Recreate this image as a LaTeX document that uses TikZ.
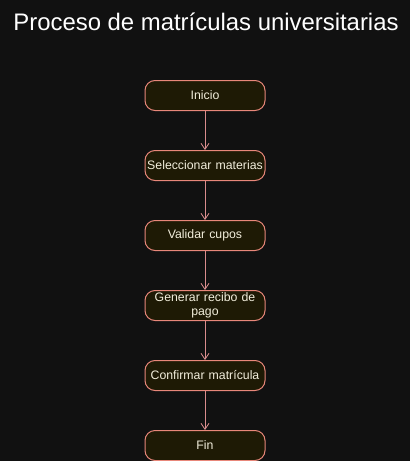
\documentclass[tikz,border=0pt]{standalone}
\usepackage{fontspec}
\setmainfont{Liberation Sans}
\usetikzlibrary{arrows.meta}
\definecolor{bg}{HTML}{111111}
\definecolor{boxfill}{HTML}{1E1A05}
\definecolor{boxline}{HTML}{E8877A}
\definecolor{arrowc}{HTML}{D98C8C}
\definecolor{txt}{HTML}{F2EEDC}
\begin{document}
\begin{tikzpicture}[x=1pt,y=-1pt,
  stepbox/.style={draw=boxline, line width=1pt, fill=boxfill, rounded corners=10pt,
    minimum width=120pt, minimum height=30pt, text width=120pt, align=center,
    font=\fontsize{12.3}{14.5}\selectfont, text=txt, inner sep=0pt},
  flow/.style={draw=arrowc, line width=0.8pt, -{Straight Barb[length=6pt,width=8pt]}}]
\fill[bg] (0,0) rectangle (410,461);
\useasboundingbox (0,0) rectangle (410,461);
\node[font=\fontsize{23.9}{28}\selectfont, text=white] (title) at (206,22) {Proceso de matrículas universitarias};
\node[stepbox] (n1) at (205,95.5) {\raisebox{-1pt}{Inicio}};
\node[stepbox] (n2) at (205,165.5) {\raisebox{-1pt}{Seleccionar materias}};
\node[stepbox] (n3) at (205,235.5) {\raisebox{-1pt}{Validar cupos}};
\node[stepbox] (n4) at (205,305.5) {Generar recibo de\\pago};
\node[stepbox] (n5) at (205,375.5) {\raisebox{-1pt}{Confirmar matrícula}};
\node[stepbox] (n6) at (205,445.5) {\raisebox{-1pt}{Fin}};
\draw[flow] (n1) -- (n2);
\draw[flow] (n2) -- (n3);
\draw[flow] (n3) -- (n4);
\draw[flow] (n4) -- (n5);
\draw[flow] (n5) -- (n6);
\end{tikzpicture}
\end{document}
